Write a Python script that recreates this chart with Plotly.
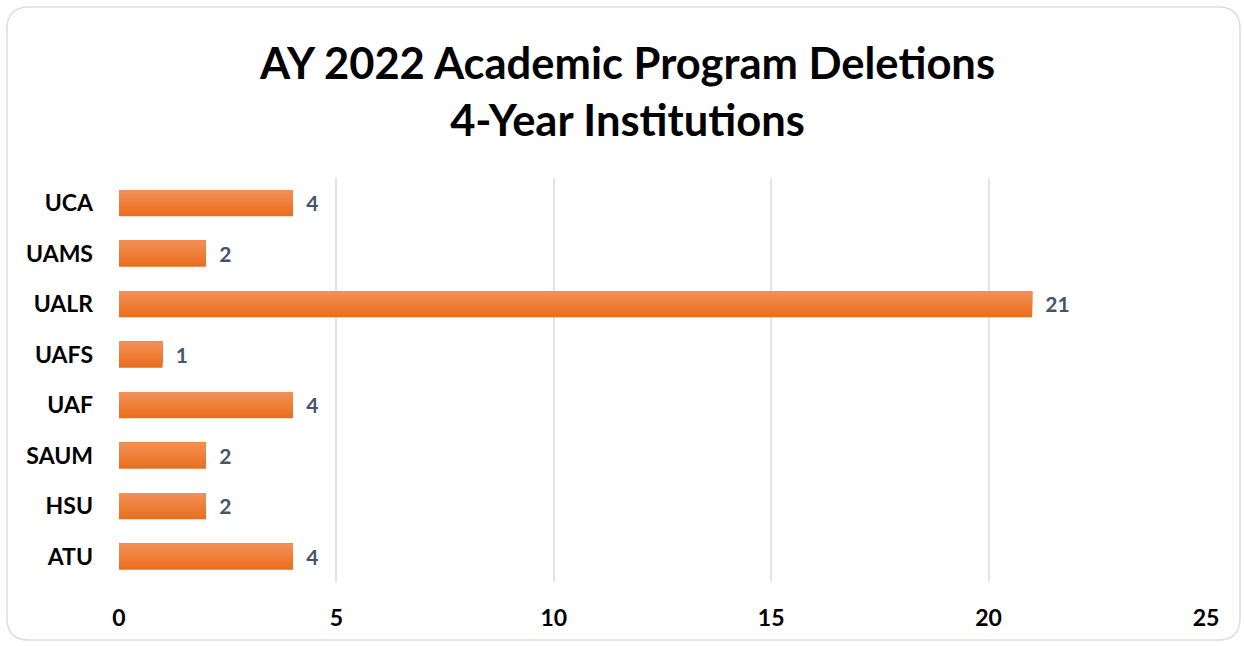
import plotly.graph_objects as go

# Data (bottom-to-top order as drawn on the category axis)
institutions = ["ATU", "HSU", "SAUM", "UAF", "UAFS", "UALR", "UAMS", "UCA"]
deletions = [4, 2, 2, 4, 1, 21, 2, 4]
x_ticks = [0, 5, 10, 15, 20, 25]

title_line1 = "AY 2022 Academic Program Deletions"
title_line2 = "4-Year Institutions"

W, H = 1244, 646
L, R, T, B = 119, 38, 178, 64
FONT = "Lato, Open Sans, sans-serif"

fig = go.Figure()

# gradient bars: overlapping strips, lighter at top, darker at bottom
bar_w = 0.51
n_strips = 14
step = bar_w / n_strips
top_rgb = (243, 143, 84)
bot_rgb = (233, 111, 30)
for i in range(n_strips):
    t = i / (n_strips - 1)
    c = tuple(round(bot_rgb[k] + (top_rgb[k] - bot_rgb[k]) * t) for k in range(3))
    fig.add_trace(go.Bar(
        y=institutions, x=deletions, orientation="h",
        width=bar_w - i * step,
        offset=-bar_w / 2 + i * step,
        marker=dict(color="rgb(%d,%d,%d)" % c, line=dict(width=0)),
        hoverinfo="skip", showlegend=False,
    ))

# value labels
fig.add_trace(go.Bar(
    y=institutions, x=deletions, orientation="h", width=bar_w,
    marker=dict(color="rgba(0,0,0,0)", line=dict(width=0)),
    text=deletions, texttemplate="  %{x}", textposition="outside",
    textfont=dict(family=FONT, size=22, color="#44546A", weight="bold"),
    cliponaxis=False, showlegend=False, hoverinfo="skip",
))

# rounded frame
def P(px, py):
    a = (px - L) / (W - L - R)
    b = (H - B - py) / (H - T - B)
    return "%.5f,%.5f" % (a, b)

x0, y0, x1, y1, r = 7, 7, 1240, 640, 22
path = ("M " + P(x0 + r, y0) + " L " + P(x1 - r, y0) +
        " Q " + P(x1, y0) + " " + P(x1, y0 + r) +
        " L " + P(x1, y1 - r) + " Q " + P(x1, y1) + " " + P(x1 - r, y1) +
        " L " + P(x0 + r, y1) + " Q " + P(x0, y1) + " " + P(x0, y1 - r) +
        " L " + P(x0, y0 + r) + " Q " + P(x0, y0) + " " + P(x0 + r, y0) + " Z")
fig.add_shape(type="path", path=path, xref="paper", yref="paper",
              line=dict(color="#D9DDE3", width=1.5), fillcolor="rgba(0,0,0,0)", layer="below")

# title as annotation
fig.add_annotation(
    text=title_line1 + "<br>" + title_line2,
    xref="paper", yref="paper", x=(627 - L) / (W - L - R), y=(H - B - 90) / (H - T - B),
    xanchor="center", yanchor="middle", showarrow=False,
    font=dict(family=FONT, size=43.5, color="black", weight="bold"),
)

fig.update_layout(
    width=W, height=H,
    margin=dict(l=L, r=R, t=T, b=B),
    paper_bgcolor="white", plot_bgcolor="white",
    barmode="overlay",
    xaxis=dict(range=[0, 25], tickvals=x_ticks, showgrid=True, gridcolor="#E1E4E8", gridwidth=2,
               zeroline=False, showline=False, ticks="", ticklabelstandoff=20,
               tickfont=dict(family=FONT, size=23, color="black", weight="bold"), fixedrange=True),
    yaxis=dict(categoryorder="array", categoryarray=institutions, showgrid=False, zeroline=False,
               showline=False, ticks="", ticklabelstandoff=25,
               tickfont=dict(family=FONT, size=23, color="black", weight="bold")),
    font=dict(family=FONT),
)

fig.write_html("out.html", config={"displayModeBar": False},
               post_script="document.body.style.margin='0';")
